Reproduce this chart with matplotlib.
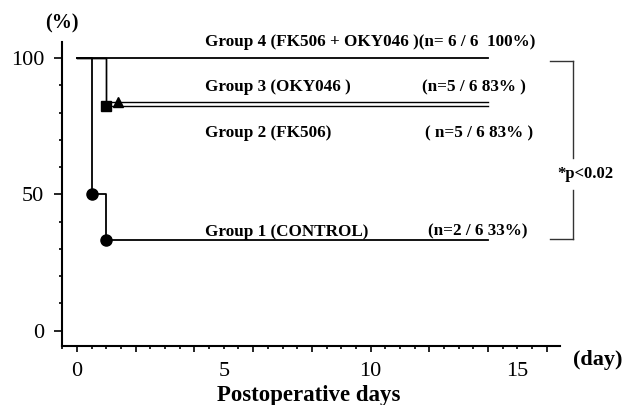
import matplotlib.pyplot as plt
from matplotlib.ticker import MultipleLocator

# survival curves (Kaplan-Meier style steps), days vs % surviving
g1_days = [0, 0.5, 1, 14]
g1_surv = [100, 50, 33.3, 33.3]
g2_days = [0, 1, 14]
g2_surv = [100, 82.6, 82.6]
g3_days = [0, 1, 14]
g3_surv = [100, 83.9, 83.9]
g4_days = [0, 14]
g4_surv = [100, 100]

# event markers
g1_mark_x = [0.5, 1]
g1_mark_y = [50, 33.3]
g2_mark = (1, 82.6)
g3_mark = (1.4, 83.9)

group_names = ["Group 4 (FK506 + OKY046 )(n= 6 / 6  100%)",
               "Group 3 (OKY046 )", "Group 2 (FK506)", "Group 1 (CONTROL)"]
group_counts = [None, "(n=5 / 6 83% )", "( n=5 / 6 83% )", "(n=2 / 6 33%)"]

x_labels = [0, 5, 10, 15]
y_labels = [0, 50, 100]

plt.rcParams['font.family'] = ['Liberation Serif', 'DejaVu Serif']

fig = plt.figure(figsize=(6.26, 4.05), dpi=100)
ax = fig.add_axes([0.0986, 0.1457, 0.796, 0.7506])

lw = 1.3
ax.step(g4_days, g4_surv, where='post', color='black', lw=lw)
ax.step(g3_days, g3_surv, where='post', color='black', lw=1.0)
ax.step(g2_days, g2_surv, where='post', color='black', lw=1.0)
ax.step(g1_days, g1_surv, where='post', color='black', lw=lw)

ax.plot(g1_mark_x, g1_mark_y, 'o', color='black', ms=8)
ax.plot(*g2_mark, 's', color='black', ms=7.5)
ax.plot(*g3_mark, '^', color='black', ms=7.5)

ax.set_xlim(-0.52, 16.45)
ax.set_ylim(-5.6, 105.9)

for s in ['top', 'right']:
    ax.spines[s].set_visible(False)
for s in ['left', 'bottom']:
    ax.spines[s].set_linewidth(1.5)

ax.set_yticks(y_labels)
ax.set_yticklabels([str(v) for v in y_labels], fontsize=16)
ax.yaxis.set_minor_locator(MultipleLocator(10))
ax.tick_params(axis='y', which='major', direction='out', length=5.5, width=1.2, pad=7)
ax.tick_params(axis='y', which='minor', direction='out', length=2, width=1.2)

# x ticks: tall every 2 days, short every half day, labels every 5 days
ax.xaxis.set_major_locator(MultipleLocator(2))
ax.xaxis.set_minor_locator(MultipleLocator(0.5))
ax.set_xticklabels([])
ax.tick_params(axis='x', which='major', direction='out', length=4, width=1.2)
ax.tick_params(axis='x', which='minor', direction='out', length=2, width=1.2)
for v in x_labels:
    ax.text(v, -0.085, str(v), transform=ax.get_xaxis_transform(),
            ha='center', va='center', fontsize=16)

fig.text(309 / 626, 1 - 395 / 405, "Postoperative days", ha='center', va='center',
         fontsize=16.5, fontweight='bold')
fig.text(598 / 626, 1 - 360 / 405, "(day)", ha='center', va='center',
         fontsize=16, fontweight='bold')
fig.text(62 / 626, 1 - 23 / 405, "(%)", ha='center', va='center',
         fontsize=14.5, fontweight='bold')

# group labels
name_y = [41.7, 87, 133, 231.7]
count_x = [None, 421.7, 425, 427.7]
for name, cnt, yy, cx in zip(group_names, group_counts, name_y, count_x):
    fig.text(205 / 626, 1 - yy / 405, name, ha='left', va='center',
             fontsize=12.3, fontweight='bold')
    if cnt:
        fig.text(cx / 626, 1 - yy / 405, cnt, ha='left', va='center',
                 fontsize=12.3, fontweight='bold')

# significance bracket
bx0, bx1 = 550 / 626, 573 / 626
by0, by1 = 1 - 60.7 / 405, 1 - 239.3 / 405
bcol = '#333333'
fig.add_artist(plt.Line2D([bx0, bx1], [by0, by0], color=bcol, lw=1))
fig.add_artist(plt.Line2D([bx0, bx1], [by1, by1], color=bcol, lw=1))
fig.add_artist(plt.Line2D([bx1, bx1], [by0, 1 - 158 / 405], color=bcol, lw=1))
fig.add_artist(plt.Line2D([bx1, bx1], [1 - 190 / 405, by1], color=bcol, lw=1))
fig.text(585 / 626, 1 - 174 / 405, "*p<0.02", ha='center', va='center',
         fontsize=12, fontweight='bold')

fig.savefig("out.png", dpi=100)
